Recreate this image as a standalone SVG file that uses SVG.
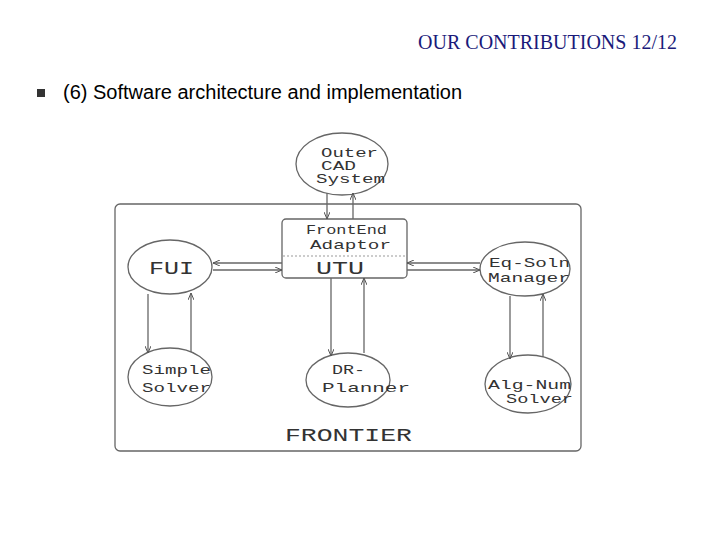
<svg xmlns="http://www.w3.org/2000/svg" width="720" height="540" viewBox="0 0 720 540">
<defs>
<marker id="a" markerWidth="8" markerHeight="6" refX="7" refY="3" orient="auto" markerUnits="userSpaceOnUse"><path d="M0,0 L7,3 L0,6" fill="none" stroke="#555" stroke-width="1"/></marker>
</defs>
<style>
.s{fill:#fff;stroke:#666;stroke-width:1.3}
.t{font-family:"Liberation Mono",monospace;font-size:13px;fill:#333}
.b{font-family:"Liberation Mono",monospace;font-size:19px;fill:#333}
.c line{stroke:#666;stroke-width:1.3;marker-end:url(#a)}
</style>
<rect width="720" height="540" fill="#fff"/>
<text x="677" y="49" text-anchor="end" font-family="Liberation Serif,serif" font-size="20" fill="#1a1a7a">OUR CONTRIBUTIONS 12/12</text>
<rect x="37" y="89" width="8" height="8" fill="#333"/>
<text x="63" y="99" font-family="Liberation Sans,sans-serif" font-size="20" fill="#000">(6) Software architecture and  implementation</text>
<g id="frontier"><rect x="115" y="204" width="466" height="247" rx="5" class="s"/><text class="b" x="285" y="441" textLength="127" lengthAdjust="spacingAndGlyphs">FRONTIER</text></g>
<g id="outer"><ellipse cx="342" cy="164" rx="46" ry="31" class="s"/>
<text class="t" x="321" y="157" textLength="57" lengthAdjust="spacingAndGlyphs">Outer</text>
<text class="t" x="321" y="170" textLength="35" lengthAdjust="spacingAndGlyphs">CAD</text>
<text class="t" x="316" y="183" textLength="69" lengthAdjust="spacingAndGlyphs">System</text></g>
<g id="frontend"><rect x="282" y="219" width="125" height="59" rx="4" class="s"/>
<line x1="283" y1="256" x2="406" y2="256" stroke="#999" stroke-dasharray="2,2"/>
<text class="t" x="306" y="234" textLength="81" lengthAdjust="spacingAndGlyphs">FrontEnd</text>
<text class="t" x="310" y="249" textLength="81" lengthAdjust="spacingAndGlyphs">Adaptor</text>
<text class="b" x="316" y="274" textLength="48" lengthAdjust="spacingAndGlyphs">UTU</text></g>
<g id="fui"><ellipse cx="170" cy="267" rx="42" ry="27" class="s"/><text class="b" x="149" y="274" textLength="45" lengthAdjust="spacingAndGlyphs">FUI</text></g>
<g id="simple"><ellipse cx="170" cy="377" rx="42" ry="29" class="s"/>
<text class="t" x="142" y="374" textLength="69" lengthAdjust="spacingAndGlyphs">Simple</text>
<text class="t" x="142" y="392" textLength="69" lengthAdjust="spacingAndGlyphs">Solver</text></g>
<g id="dr"><ellipse cx="348" cy="380" rx="42" ry="27" class="s"/>
<text class="t" x="332" y="374" textLength="33" lengthAdjust="spacingAndGlyphs">DR-</text>
<text class="t" x="322" y="392" textLength="88" lengthAdjust="spacingAndGlyphs">Planner</text></g>
<g id="eq"><ellipse cx="525" cy="269" rx="45" ry="27" class="s"/>
<text class="t" x="489" y="267" textLength="81" lengthAdjust="spacingAndGlyphs">Eq-Soln</text>
<text class="t" x="488" y="282" textLength="82" lengthAdjust="spacingAndGlyphs">Manager</text></g>
<g id="alg"><ellipse cx="528" cy="384" rx="43" ry="29" class="s"/>
<text class="t" x="488" y="389" textLength="83" lengthAdjust="spacingAndGlyphs">Alg-Num</text>
<text class="t" x="506" y="403" textLength="67" lengthAdjust="spacingAndGlyphs">Solver</text></g>
<g class="c" id="connectors">
<line x1="327" y1="193" x2="327" y2="219"/>
<line x1="353" y1="219" x2="353" y2="193"/>
<line x1="282" y1="263" x2="213" y2="263"/>
<line x1="213" y1="270" x2="282" y2="270"/>
<line x1="480" y1="263" x2="407" y2="263"/>
<line x1="407" y1="270" x2="480" y2="270"/>
<line x1="148" y1="294" x2="148" y2="353"/>
<line x1="191" y1="352" x2="191" y2="293"/>
<line x1="331" y1="278" x2="331" y2="356"/>
<line x1="364" y1="353" x2="364" y2="278"/>
<line x1="510" y1="296" x2="510" y2="359"/>
<line x1="543" y1="357" x2="543" y2="294"/>
</g>
</svg>
